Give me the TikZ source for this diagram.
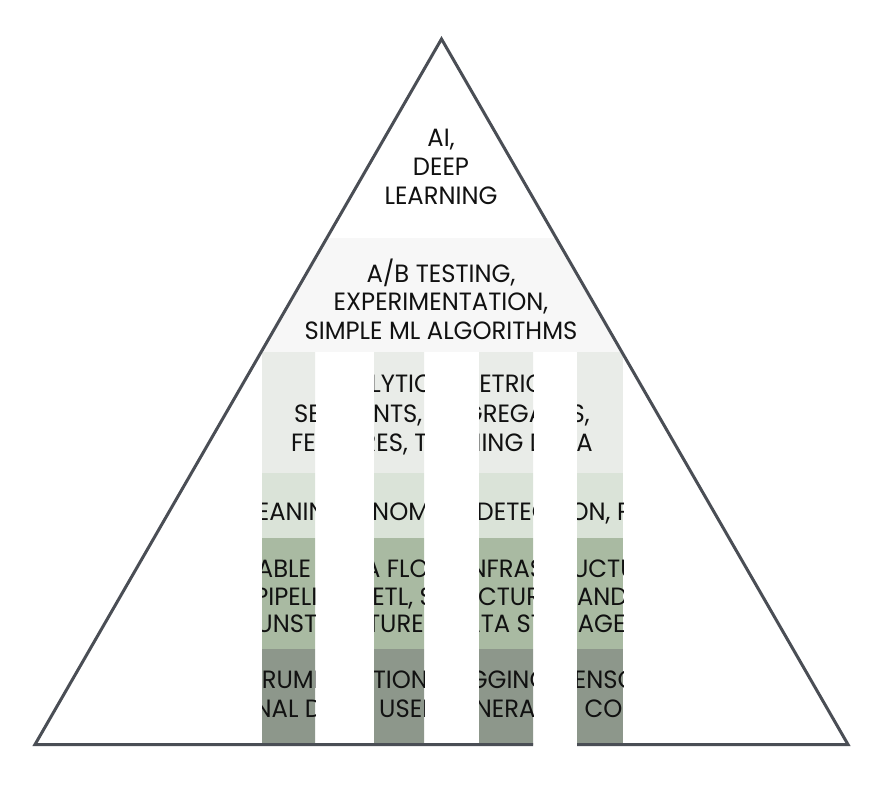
\documentclass[tikz,border=0pt]{standalone}
\usepackage{fontspec}
\newfontfamily\lblfont[FakeStretch=0.97]{Poppins}
\definecolor{bandtwo}{HTML}{F7F7F7}
\definecolor{bandthree}{HTML}{E9ECE8}
\definecolor{bandfour}{HTML}{DAE3D8}
\definecolor{bandfive}{HTML}{A9BAA2}
\definecolor{bandsix}{HTML}{8D978B}
\definecolor{edgecol}{HTML}{4A4E55}
\definecolor{txtcol}{HTML}{111111}
\tikzset{
  lbl/.style={font=\lblfont\fontsize{25}{28}\selectfont, text=txtcol, inner sep=0pt, anchor=base},
  outline/.style={draw=edgecol, line width=3pt, line join=miter}
}
\begin{document}
\begin{tikzpicture}[x=1pt,y=-1pt]
\useasboundingbox (0,0) rectangle (875,795);
\fill[white] (0,0) rectangle (875,795);
\coordinate (apex) at (441.5,39);
\coordinate (bl) at (35,744.5);
\coordinate (br) at (848,744.5);
\coordinate (gapL) at (533,744.5);
\coordinate (gapR) at (577,744.5);
% band 2 clipped to the triangle
\begin{scope}
  \clip (apex) -- (bl) -- (br) -- cycle;
  \fill[bandtwo] (0,238) rectangle (875,352);
\end{scope}
% top
\node[lbl] (t1) at (441,146) {AI,};
\node[lbl] (t2) at (441,175) {DEEP};
\node[lbl] (t3) at (441,204) {LEARNING};
% band 2
\node[lbl] (b2a) at (441,282) {A/B TESTING,};
\node[lbl] (b2b) at (441,310) {EXPERIMENTATION,};
\node[lbl] (b2c) at (441,339) {SIMPLE ML ALGORITHMS};
% columns
\begin{scope}
  \clip (262,352) rectangle (315,745)
        (374,352) rectangle (424,745)
        (479,352) rectangle (533,745)
        (577,352) rectangle (623,745);
  \fill[bandthree] (262,352) rectangle (623,473);
  \fill[bandfour]  (262,473) rectangle (623,538);
  \fill[bandfive]  (262,538) rectangle (623,649);
  \fill[bandsix]   (262,649) rectangle (623,745);
  \node[lbl] (b3a) at (442,392) {ANALYTICS, METRICS,};
  \node[lbl] (b3b) at (442,422) {SEGMENTS, AGGREGATES,};
  \node[lbl] (b3c) at (442,451) {FEATURES, TRAINING DATA};
  \node[lbl] (b4a) at (450,520) {CLEANING, ANOMALY DETECTION, PREP};
  \node[lbl] (b5a) at (441,577) {RELIABLE DATA FLOW, INFRASTRUCTURE,};
  \node[lbl] (b5b) at (441,605) {PIPELINES, ETL, STRUCTURED AND};
  \node[lbl] (b5c) at (441,632) {UNSTRUCTURED DATA STORAGE};
  \node[lbl] (b6a) at (441,688) {INSTRUMENTATION, LOGGING, SENSORS,};
  \node[lbl] (b6b) at (441,717) {EXTERNAL DATA, USER GENERATED CONTENT};
\end{scope}
\draw[outline] (gapL) -- (bl) -- (apex) -- (br) -- (gapR);
\end{tikzpicture}
\end{document}
